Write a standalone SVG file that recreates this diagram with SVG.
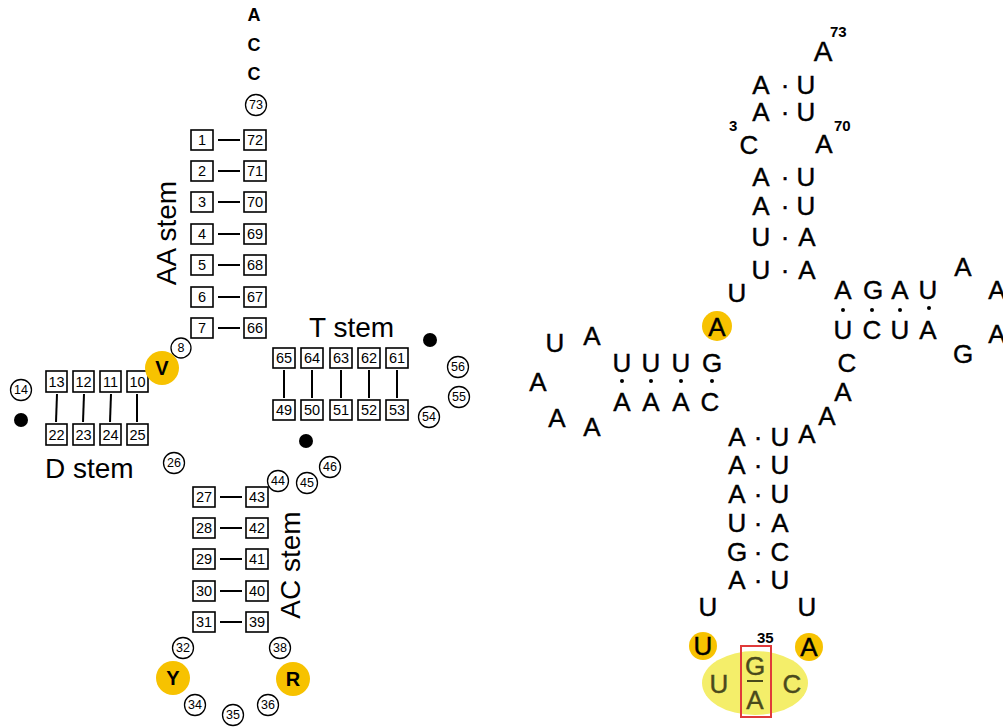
<svg xmlns="http://www.w3.org/2000/svg" width="1003" height="727" viewBox="0 0 1003 727">
<style>
.bx{fill:#fff;stroke:#000;stroke-width:1.6}
.bt{font-family:"Liberation Sans",Arial,sans-serif;font-size:14.5px;text-anchor:middle;dominant-baseline:central;fill:#000}
.ci{fill:#fff;stroke:#000;stroke-width:1.3}
.ct{font-family:"Liberation Sans",Arial,sans-serif;font-size:12.5px;text-anchor:middle;dominant-baseline:central;fill:#000}
.gold{fill:#F7C200}
.gt{font-family:"Liberation Sans",Arial,sans-serif;font-size:18px;font-weight:bold;text-anchor:middle;dominant-baseline:central;fill:#000}
.gl{font-size:20px}
.lbl{font-family:"Liberation Sans",Arial,sans-serif;font-size:28px;fill:#000}
.ln{stroke:#000;stroke-width:2}
.n{font-family:"Liberation Sans",Arial,sans-serif;font-size:26px;text-anchor:middle;dominant-baseline:central;fill:#000;stroke:#000;stroke-width:0.4}
.num{font-family:"Liberation Sans",Arial,sans-serif;font-size:15px;font-weight:bold;fill:#000}
.dot{fill:#000}
.ol{fill:#4a4a1c;stroke:#4a4a1c}
</style>
<rect width="1003" height="727" fill="#fff"/>

<g id="connectors">
<g class="ln">
<line x1="218" y1="140" x2="240" y2="140"/>
<line x1="218" y1="171" x2="240" y2="171"/>
<line x1="218" y1="202" x2="240" y2="202"/>
<line x1="218" y1="234" x2="240" y2="234"/>
<line x1="218" y1="265" x2="240" y2="265"/>
<line x1="218" y1="297" x2="240" y2="297"/>
<line x1="218" y1="328" x2="240" y2="328"/>
<line x1="220" y1="497" x2="242" y2="497"/>
<line x1="220" y1="528" x2="242" y2="528"/>
<line x1="220" y1="559" x2="242" y2="559"/>
<line x1="220" y1="591" x2="242" y2="591"/>
<line x1="220" y1="622" x2="242" y2="622"/>
<line x1="57" y1="394" x2="56" y2="422"/>
<line x1="84" y1="394" x2="83" y2="422"/>
<line x1="111" y1="394" x2="110" y2="422"/>
<line x1="137" y1="394" x2="137" y2="422"/>
<line x1="284" y1="370" x2="284" y2="398"/>
<line x1="312" y1="370" x2="312" y2="398"/>
<line x1="341" y1="370" x2="341" y2="398"/>
<line x1="369" y1="370" x2="369" y2="398"/>
<line x1="397" y1="370" x2="397" y2="398"/>
</g>
</g>

<g id="acc">
<text class="gt" x="254" y="15">A</text>
<text class="gt" x="254" y="45">C</text>
<text class="gt" x="254" y="74">C</text>
</g>

<g id="b1"><rect class="bx" x="191" y="130" width="22" height="20"/><text class="bt" x="202" y="140">1</text></g>
<g id="b2"><rect class="bx" x="191" y="161" width="22" height="20"/><text class="bt" x="202" y="171">2</text></g>
<g id="b3"><rect class="bx" x="191" y="192" width="22" height="20"/><text class="bt" x="202" y="202">3</text></g>
<g id="b4"><rect class="bx" x="191" y="224" width="22" height="20"/><text class="bt" x="202" y="234">4</text></g>
<g id="b5"><rect class="bx" x="191" y="255" width="22" height="20"/><text class="bt" x="202" y="265">5</text></g>
<g id="b6"><rect class="bx" x="191" y="287" width="22" height="20"/><text class="bt" x="202" y="297">6</text></g>
<g id="b7"><rect class="bx" x="191" y="318" width="22" height="20"/><text class="bt" x="202" y="328">7</text></g>
<g id="b72"><rect class="bx" x="244" y="130" width="22" height="20"/><text class="bt" x="255" y="140">72</text></g>
<g id="b71"><rect class="bx" x="244" y="161" width="22" height="20"/><text class="bt" x="255" y="171">71</text></g>
<g id="b70"><rect class="bx" x="244" y="192" width="22" height="20"/><text class="bt" x="255" y="202">70</text></g>
<g id="b69"><rect class="bx" x="244" y="224" width="22" height="20"/><text class="bt" x="255" y="234">69</text></g>
<g id="b68"><rect class="bx" x="244" y="255" width="22" height="20"/><text class="bt" x="255" y="265">68</text></g>
<g id="b67"><rect class="bx" x="244" y="287" width="22" height="20"/><text class="bt" x="255" y="297">67</text></g>
<g id="b66"><rect class="bx" x="244" y="318" width="22" height="20"/><text class="bt" x="255" y="328">66</text></g>

<g id="b27"><rect class="bx" x="193" y="487" width="22" height="20"/><text class="bt" x="204" y="497">27</text></g>
<g id="b28"><rect class="bx" x="193" y="518" width="22" height="20"/><text class="bt" x="204" y="528">28</text></g>
<g id="b29"><rect class="bx" x="193" y="549" width="22" height="20"/><text class="bt" x="204" y="559">29</text></g>
<g id="b30"><rect class="bx" x="193" y="581" width="22" height="20"/><text class="bt" x="204" y="591">30</text></g>
<g id="b31"><rect class="bx" x="193" y="612" width="22" height="20"/><text class="bt" x="204" y="622">31</text></g>
<g id="b43"><rect class="bx" x="246" y="487" width="22" height="20"/><text class="bt" x="257" y="497">43</text></g>
<g id="b42"><rect class="bx" x="246" y="518" width="22" height="20"/><text class="bt" x="257" y="528">42</text></g>
<g id="b41"><rect class="bx" x="246" y="549" width="22" height="20"/><text class="bt" x="257" y="559">41</text></g>
<g id="b40"><rect class="bx" x="246" y="581" width="22" height="20"/><text class="bt" x="257" y="591">40</text></g>
<g id="b39"><rect class="bx" x="246" y="612" width="22" height="20"/><text class="bt" x="257" y="622">39</text></g>

<g id="b13"><rect class="bx" x="46" y="371" width="21" height="21"/><text class="bt" x="56.5" y="381.5">13</text></g>
<g id="b12"><rect class="bx" x="73" y="371" width="21" height="21"/><text class="bt" x="83.5" y="381.5">12</text></g>
<g id="b11"><rect class="bx" x="100" y="371" width="21" height="21"/><text class="bt" x="110.5" y="381.5">11</text></g>
<g id="b10"><rect class="bx" x="127" y="371" width="21" height="21"/><text class="bt" x="137.5" y="381.5">10</text></g>
<g id="b22"><rect class="bx" x="46" y="424" width="21" height="21"/><text class="bt" x="56.5" y="434.5">22</text></g>
<g id="b23"><rect class="bx" x="73" y="424" width="21" height="21"/><text class="bt" x="83.5" y="434.5">23</text></g>
<g id="b24"><rect class="bx" x="100" y="424" width="21" height="21"/><text class="bt" x="110.5" y="434.5">24</text></g>
<g id="b25"><rect class="bx" x="127" y="424" width="21" height="21"/><text class="bt" x="137.5" y="434.5">25</text></g>

<g id="b65"><rect class="bx" x="273" y="348" width="22" height="20"/><text class="bt" x="284" y="358">65</text></g>
<g id="b64"><rect class="bx" x="301" y="348" width="22" height="20"/><text class="bt" x="312" y="358">64</text></g>
<g id="b63"><rect class="bx" x="330" y="348" width="22" height="20"/><text class="bt" x="341" y="358">63</text></g>
<g id="b62"><rect class="bx" x="358" y="348" width="22" height="20"/><text class="bt" x="369" y="358">62</text></g>
<g id="b61"><rect class="bx" x="386" y="348" width="22" height="20"/><text class="bt" x="397" y="358">61</text></g>
<g id="b49"><rect class="bx" x="273" y="400" width="22" height="20"/><text class="bt" x="284" y="410">49</text></g>
<g id="b50"><rect class="bx" x="301" y="400" width="22" height="20"/><text class="bt" x="312" y="410">50</text></g>
<g id="b51"><rect class="bx" x="330" y="400" width="22" height="20"/><text class="bt" x="341" y="410">51</text></g>
<g id="b52"><rect class="bx" x="358" y="400" width="22" height="20"/><text class="bt" x="369" y="410">52</text></g>
<g id="b53"><rect class="bx" x="386" y="400" width="22" height="20"/><text class="bt" x="397" y="410">53</text></g>

<g id="c73"><circle class="ci" cx="256" cy="105" r="10.5"/><text class="ct" x="256" y="105">73</text></g>
<g id="c8"><circle class="ci" cx="181" cy="348" r="10"/><text class="ct" x="181" y="348">8</text></g>
<g id="c14"><circle class="ci" cx="21" cy="390" r="10.5"/><text class="ct" x="21" y="390">14</text></g>
<g id="c26"><circle class="ci" cx="174" cy="463" r="10.5"/><text class="ct" x="174" y="463">26</text></g>
<g id="c44"><circle class="ci" cx="278" cy="481" r="10.5"/><text class="ct" x="278" y="481">44</text></g>
<g id="c45"><circle class="ci" cx="307" cy="483" r="10.5"/><text class="ct" x="307" y="483">45</text></g>
<g id="c46"><circle class="ci" cx="330" cy="467" r="10.5"/><text class="ct" x="330" y="467">46</text></g>
<g id="c56"><circle class="ci" cx="458" cy="367" r="10.5"/><text class="ct" x="458" y="367">56</text></g>
<g id="c55"><circle class="ci" cx="459" cy="397" r="10.5"/><text class="ct" x="459" y="397">55</text></g>
<g id="c54"><circle class="ci" cx="429" cy="417" r="10.5"/><text class="ct" x="429" y="417">54</text></g>
<g id="c32"><circle class="ci" cx="183" cy="648" r="10.5"/><text class="ct" x="183" y="648">32</text></g>
<g id="c34"><circle class="ci" cx="195" cy="705" r="10.5"/><text class="ct" x="195" y="705">34</text></g>
<g id="c35"><circle class="ci" cx="233" cy="715" r="10.5"/><text class="ct" x="233" y="715">35</text></g>
<g id="c36"><circle class="ci" cx="268" cy="705" r="10.5"/><text class="ct" x="268" y="705">36</text></g>
<g id="c38"><circle class="ci" cx="280" cy="648" r="10.5"/><text class="ct" x="280" y="648">38</text></g>

<g id="gV"><circle class="gold" cx="162" cy="368" r="17"/><text class="gt gl" x="162" y="368">V</text></g>
<g id="gY"><circle class="gold" cx="173" cy="678" r="17"/><text class="gt gl" x="173" y="678">Y</text></g>
<g id="gR"><circle class="gold" cx="293" cy="679" r="17"/><text class="gt gl" x="293" y="679">R</text></g>

<g id="dots">
<circle class="dot" cx="21" cy="420" r="7"/>
<circle class="dot" cx="430" cy="340" r="7"/>
<circle class="dot" cx="306" cy="441" r="7"/>
</g>

<g id="labels">
<text class="lbl" transform="translate(176,233) rotate(-90)" text-anchor="middle">AA stem</text>
<text class="lbl" x="309" y="337">T stem</text>
<text class="lbl" x="45" y="478">D stem</text>
<text class="lbl" transform="translate(300,565) rotate(-90)" text-anchor="middle">AC stem</text>
</g>

<g id="acceptor">
<text class="num" x="830" y="37">73</text>
<text class="n" x="823" y="51" style="font-size:28px">A</text>
<text class="n" x="761" y="85">A</text><text class="n" x="785" y="85">·</text><text class="n" x="806" y="85">U</text>
<text class="n" x="761" y="112">A</text><text class="n" x="785" y="112">·</text><text class="n" x="806" y="112">U</text>
<text class="num" x="729" y="131">3</text>
<text class="n" x="749" y="145">C</text>
<text class="num" x="834" y="131">70</text>
<text class="n" x="824" y="144">A</text>
<text class="n" x="761" y="177">A</text><text class="n" x="785" y="177">·</text><text class="n" x="806" y="177">U</text>
<text class="n" x="761" y="206">A</text><text class="n" x="785" y="206">·</text><text class="n" x="806" y="206">U</text>
<text class="n" x="761" y="237">U</text><text class="n" x="785" y="237">·</text><text class="n" x="807" y="237">A</text>
<text class="n" x="761" y="270">U</text><text class="n" x="785" y="270">·</text><text class="n" x="807" y="270">A</text>
</g>

<g id="d-arm">
<text class="n" x="737" y="293">U</text>
<circle class="gold" cx="717" cy="326" r="15"/>
<text class="n" x="717" y="327">A</text>
<text class="n" x="622" y="363">U</text><text class="n" x="651" y="363">U</text><text class="n" x="681" y="363">U</text><text class="n" x="712" y="363">G</text>
<circle class="dot" cx="622" cy="381" r="2"/><circle class="dot" cx="651" cy="381" r="2"/><circle class="dot" cx="681" cy="381" r="2"/><circle class="dot" cx="712" cy="381" r="2"/>
<text class="n" x="622" y="402">A</text><text class="n" x="651" y="402">A</text><text class="n" x="681" y="402">A</text><text class="n" x="710" y="402">C</text>
<text class="n" x="555" y="343">U</text>
<text class="n" x="592" y="336">A</text>
<text class="n" x="538" y="382">A</text>
<text class="n" x="557" y="418">A</text>
<text class="n" x="592" y="427">A</text>
</g>

<g id="t-arm">
<text class="n" x="843" y="290">A</text><text class="n" x="873" y="290">G</text><text class="n" x="900" y="290">A</text><text class="n" x="928" y="290">U</text>
<circle class="dot" cx="843" cy="310" r="2"/><circle class="dot" cx="872" cy="310" r="2"/><circle class="dot" cx="900" cy="310" r="2"/><circle class="dot" cx="929" cy="308" r="2"/>
<text class="n" x="843" y="330">U</text><text class="n" x="872" y="330">C</text><text class="n" x="900" y="330">U</text><text class="n" x="928" y="330">A</text>
<text class="n" x="963" y="267">A</text>
<text class="n" x="997" y="290">A</text>
<text class="n" x="997" y="334">A</text>
<text class="n" x="963" y="354">G</text>
<text class="n" x="847" y="363">C</text>
<text class="n" x="843" y="392">A</text>
<text class="n" x="827" y="416">A</text>
<text class="n" x="807" y="434">A</text>
</g>

<g id="ac-arm">
<text class="n" x="737" y="437">A</text><text class="n" x="758" y="437">·</text><text class="n" x="780" y="437">U</text>
<text class="n" x="737" y="465">A</text><text class="n" x="758" y="465">·</text><text class="n" x="780" y="465">U</text>
<text class="n" x="737" y="494">A</text><text class="n" x="758" y="494">·</text><text class="n" x="780" y="494">U</text>
<text class="n" x="737" y="523">U</text><text class="n" x="758" y="523">·</text><text class="n" x="780" y="523">A</text>
<text class="n" x="737" y="552">G</text><text class="n" x="758" y="552">·</text><text class="n" x="780" y="552">C</text>
<text class="n" x="737" y="580">A</text><text class="n" x="758" y="580">·</text><text class="n" x="780" y="580">U</text>
<text class="n" x="708" y="607">U</text>
<text class="n" x="807" y="607">U</text>
</g>

<g id="anticodon">
<ellipse cx="755" cy="683" rx="53" ry="32" fill="#F4EE6A"/>
<circle class="gold" cx="703" cy="646" r="14"/>
<text class="n" x="703" y="646">U</text>
<circle class="gold" cx="809" cy="647" r="14"/>
<text class="n" x="809" y="647">A</text>
<text class="n ol" x="719" y="684">U</text>
<text class="n ol" x="792" y="684">C</text>
<rect x="741" y="646" width="30" height="71" fill="none" stroke="#E03A3A" stroke-width="2"/>
<text class="n ol" x="755" y="666">G</text>
<line x1="747" y1="681" x2="763" y2="681" stroke="#4a4a1c" stroke-width="2"/>
<text class="n ol" x="755" y="700">A</text>
<text class="num" x="757" y="643">35</text>
</g>
</svg>
